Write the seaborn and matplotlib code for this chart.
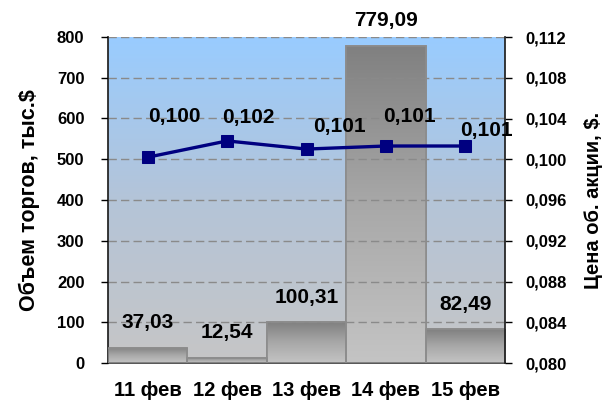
import numpy as np
import pandas as pd
import matplotlib
matplotlib.use("Agg")
import matplotlib.pyplot as plt
from matplotlib.colors import LinearSegmentedColormap
import seaborn as sns

# Данные графика
dates = ["11 фев", "12 фев", "13 фев", "14 фев", "15 фев"]
volume = [37.03, 12.54, 100.31, 779.09, 82.49]
price = [0.1002, 0.1018, 0.1010, 0.1013, 0.1013]
price_labels = ["0,100", "0,102", "0,101", "0,101", "0,101"]
volume_labels = ["37,03", "12,54", "100,31", "779,09", "82,49"]

# смещения подписей цены (в пикселях), как сдвинуто в исходнике
price_label_offsets = [(19, 29), (15, 17), (24, 16), (17, 21), (15, 11)]

sns.set_theme(style="white")
plt.rcParams["font.family"] = ["Liberation Sans", "DejaVu Sans"]
plt.rcParams["font.weight"] = "bold"
plt.rcParams.update({"text.color": "black", "axes.labelcolor": "black",
                     "xtick.color": "black", "ytick.color": "black"})

df = pd.DataFrame({"date": dates, "volume": volume, "pos": np.arange(len(dates)), "price": price})

fig = plt.figure(figsize=(6.09, 4.05), dpi=100)
ax = fig.add_axes([108 / 609, 1 - 363 / 405, 397 / 609, 326 / 405])

# фон с градиентом: голубой сверху, серый снизу
bg_cmap = LinearSegmentedColormap.from_list("bg", ["#c6c6c6", "#b4c4d8", "#99ccff"])
grad = np.linspace(0, 1, 256).reshape(-1, 1)
ax.imshow(grad, extent=[-0.5, 4.5, 0, 800], aspect="auto", origin="lower",
          cmap=bg_cmap, zorder=0)

sns.barplot(data=df, x="date", y="volume", width=1.0, color="#999999",
            edgecolor="#8c8c8c", linewidth=1.2, ax=ax, zorder=2)

# градиент на столбцах: темнее сверху
bar_cmap = LinearSegmentedColormap.from_list("bar", ["#c4c4c4", "#a8a8a8", "#808080"])
for p in ax.patches:
    x0, w, h = p.get_x(), p.get_width(), p.get_height()
    im = ax.imshow(grad, extent=[x0, x0 + w, 0, h], aspect="auto", origin="lower",
                   cmap=bar_cmap, zorder=2.5)
    im.set_clip_path(p)
    ax.add_patch(plt.Rectangle((x0, 0), w, h, fill=False, edgecolor="#8c8c8c",
                               linewidth=1.2, zorder=2.6))

for i, v in enumerate(volume):
    ax.annotate(volume_labels[i], (i, v), xytext=(0, 18), textcoords="offset points",
                ha="center", va="center", fontsize=15, fontweight="bold",
                color="black", zorder=5, annotation_clip=False)

ax.set_xlim(-0.5, 4.5)
ax.set_ylim(0, 800)
ax.set_yticks(range(0, 801, 100))
ax.yaxis.grid(True, linestyle=(0, (6, 3)), color="#8a8a8a", linewidth=1)
ax.set_axisbelow(False)
for gl in ax.get_ygridlines():
    gl.set_zorder(1)
ax.set_xlabel("")
ax.set_ylabel("Объем торгов, тыс.$", fontsize=15.5, fontweight="bold", labelpad=12)
ax.tick_params(axis="y", direction="out", length=5, width=1, colors="black",
               labelsize=12, pad=12, left=True)
ax.tick_params(axis="x", length=0, labelsize=14.5, pad=13, colors="black")
for lab in ax.get_xticklabels() + ax.get_yticklabels():
    lab.set_fontweight("bold")

ax.spines["top"].set_visible(False)
ax.spines["left"].set_color("#202020")
ax.spines["bottom"].set_color("#404040")
ax.spines["right"].set_visible(False)

# вторая ось: цена акции
ax2 = ax.twinx()
sns.lineplot(data=df, x="pos", y="price", ax=ax2, color="#000080", linewidth=2.4,
             marker="s", markersize=9, markeredgecolor="#000080", zorder=6)
ax2.set_ylim(0.080, 0.112)
ticks2 = np.arange(0.080, 0.1121, 0.004)
ax2.set_yticks(ticks2)
ax2.set_yticklabels([f"{t:.3f}".replace(".", ",") for t in ticks2])
ax2.set_xlim(-0.5, 4.5)
ax2.set_ylabel("Цена об. акции, $.", fontsize=14.5, fontweight="bold", labelpad=12)
ax2.set_xlabel("")
ax2.tick_params(axis="y", direction="out", length=5, width=1, colors="black",
                labelsize=12, pad=10, right=True)
for lab in ax2.get_yticklabels():
    lab.set_fontweight("bold")
for s in ["top", "left", "bottom"]:
    ax2.spines[s].set_visible(False)
ax2.spines["right"].set_color("#202020")
ax2.grid(False)

for i, v in enumerate(price):
    dx, dy = price_label_offsets[i]
    ax2.annotate(price_labels[i], (i, v), xytext=(dx, dy), textcoords="offset points",
                 ha="center", va="center", fontsize=15, fontweight="bold",
                 color="black", zorder=7, annotation_clip=False)

fig.savefig("out.png", dpi=100)
